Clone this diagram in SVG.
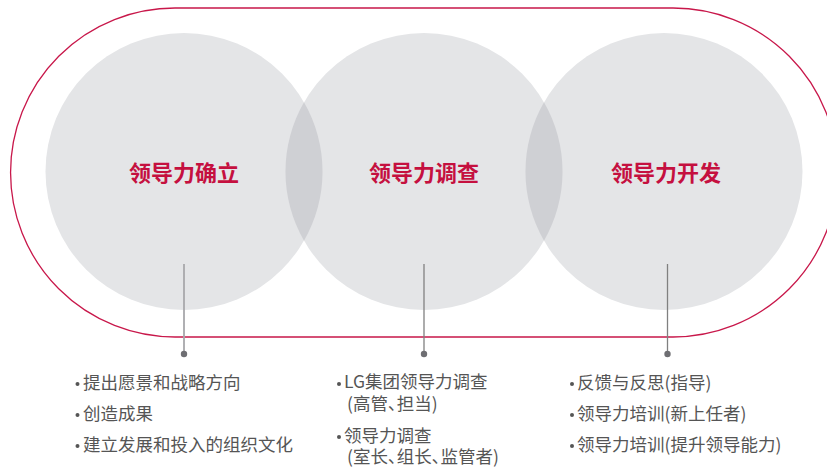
<svg xmlns="http://www.w3.org/2000/svg" width="827" height="469" viewBox="0 0 827 469">
<style>
.circ{fill:#e4e5e7}
.lens{fill:#cfd0d4}
.title{font-family:"Noto Sans CJK SC","Noto Sans",sans-serif;font-weight:bold;font-size:22px;fill:#c5103f;text-anchor:middle}
.item{font-family:"Noto Sans CJK SC","Noto Sans",sans-serif;font-size:17.5px;fill:#555}
.palt{font-feature-settings:"palt"}
.bul{fill:#555}
.lead{stroke:#808080;stroke-width:1.3;fill:none}
.dot{fill:#6e6e72}
</style>
<rect width="827" height="469" fill="#fff"/>
<path d="M 175 8 H 673 A 164.5 164.5 0 0 1 673 337 H 175 A 164.5 164.5 0 0 1 175 8 Z" fill="none" stroke="#c8174a" stroke-width="1.3"/>
<g id="node1">
<circle class="circ" cx="184" cy="171.5" r="138.5"/>
</g>
<g id="node2">
<circle class="circ" cx="424" cy="171.5" r="138.5"/>
</g>
<g id="node3">
<circle class="circ" cx="664" cy="171.5" r="138.5"/>
</g>
<path class="lens" d="M 304 102.3 A 138.5 138.5 0 0 1 304 240.7 A 138.5 138.5 0 0 1 304 102.3 Z"/>
<path class="lens" d="M 544 102.3 A 138.5 138.5 0 0 1 544 240.7 A 138.5 138.5 0 0 1 544 102.3 Z"/>
<text class="title" x="184" y="181">领导力确立</text>
<text class="title" x="424" y="181">领导力调查</text>
<text class="title" x="666" y="181">领导力开发</text>
<g id="connectors">
<line x1="184" y1="264" x2="184" y2="354" style="stroke:#a8a8ab;stroke-width:1.8"/>
<circle class="dot" cx="184" cy="354" r="3.2"/>
<line class="lead" x1="424" y1="264" x2="424" y2="354"/>
<circle class="dot" cx="424" cy="354" r="3.2"/>
<line class="lead" x1="667.5" y1="264" x2="667.5" y2="354"/>
<circle class="dot" cx="667.5" cy="354" r="3.2"/>
</g>
<g id="list1">
<circle class="bul" cx="77.5" cy="384" r="2"/>
<text class="item" x="83" y="389">提出愿景和战略方向</text>
<circle class="bul" cx="77.5" cy="415" r="2"/>
<text class="item" x="83" y="420">创造成果</text>
<circle class="bul" cx="77.5" cy="446" r="2"/>
<text class="item" x="83" y="451">建立发展和投入的组织文化</text>
</g>
<g id="list2">
<circle class="bul" cx="339" cy="384" r="2"/>
<text class="item" x="344" y="388">LG集团领导力调查</text>
<text class="item palt" x="347" y="410">(高管、担当)</text>
<circle class="bul" cx="339" cy="437" r="2"/>
<text class="item" x="344" y="442">领导力调查</text>
<text class="item palt" x="347" y="463">(室长、组长、监管者)</text>
</g>
<g id="list3">
<circle class="bul" cx="572" cy="384" r="2"/>
<text class="item" x="577" y="389">反馈与反思(指导)</text>
<circle class="bul" cx="572" cy="415" r="2"/>
<text class="item" x="577" y="420">领导力培训(新上任者)</text>
<circle class="bul" cx="572" cy="446" r="2"/>
<text class="item" x="577" y="451">领导力培训(提升领导能力)</text>
</g>
</svg>
